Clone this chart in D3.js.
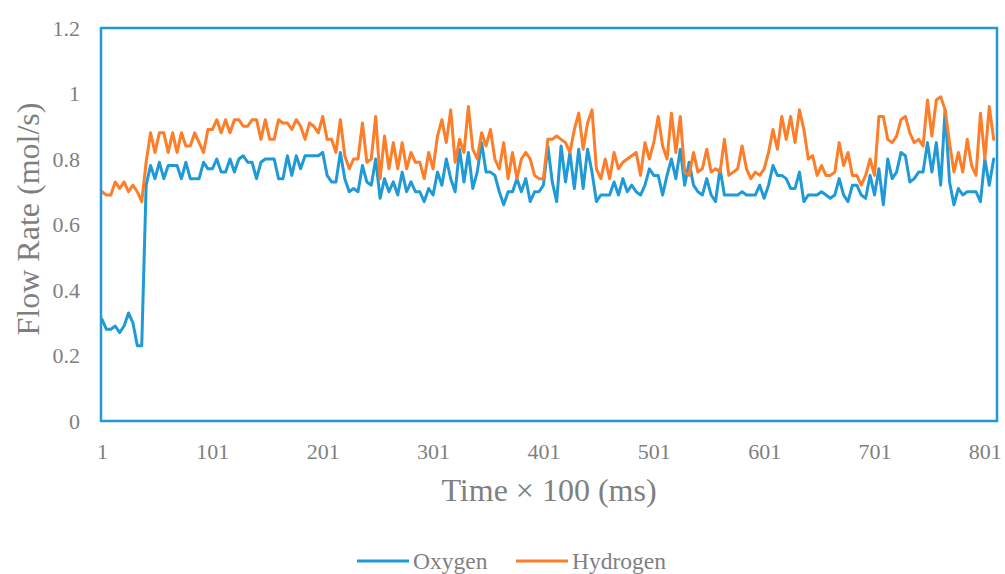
<!DOCTYPE html>
<html><head><meta charset="utf-8">
<script src="https://cdn.jsdelivr.net/npm/d3@7"></script>
<style>body{margin:0;background:#fff}svg{display:block}text{font-family:"Liberation Serif","Times New Roman",serif}</style>
</head><body>
<svg id="chart" width="1005" height="574"></svg>
<script>
// time index (every 4th sample of 812)
const timeStep = 4;
const oxygen = [
0.31,0.28,0.28,0.29,0.27,0.29,0.33,0.30,0.23,0.23,
0.72,0.78,0.74,0.79,0.74,0.78,0.78,0.78,0.74,0.79,
0.74,0.74,0.74,0.79,0.77,0.77,0.80,0.76,0.76,0.80,
0.76,0.80,0.81,0.79,0.79,0.74,0.79,0.80,0.80,0.80,
0.74,0.74,0.81,0.75,0.81,0.77,0.81,0.81,0.81,0.81,
0.82,0.75,0.73,0.73,0.82,0.74,0.70,0.71,0.70,0.78,
0.73,0.72,0.80,0.68,0.74,0.70,0.73,0.69,0.76,0.70,
0.73,0.70,0.70,0.67,0.71,0.69,0.76,0.72,0.80,0.74,
0.70,0.83,0.73,0.82,0.71,0.76,0.85,0.76,0.76,0.75,
0.70,0.66,0.70,0.70,0.74,0.70,0.74,0.67,0.70,0.70,
0.72,0.84,0.73,0.67,0.84,0.73,0.82,0.71,0.83,0.71,
0.83,0.76,0.67,0.69,0.69,0.69,0.73,0.69,0.74,0.70,
0.72,0.70,0.69,0.72,0.77,0.75,0.75,0.69,0.75,0.80,
0.74,0.83,0.72,0.79,0.72,0.70,0.69,0.74,0.69,0.67,
0.77,0.69,0.69,0.69,0.69,0.70,0.69,0.69,0.69,0.72,
0.68,0.72,0.78,0.75,0.75,0.74,0.71,0.71,0.76,0.67,
0.69,0.69,0.69,0.70,0.69,0.68,0.69,0.74,0.69,0.67,
0.72,0.72,0.69,0.68,0.75,0.69,0.77,0.66,0.80,0.74,
0.76,0.82,0.81,0.73,0.74,0.76,0.76,0.85,0.76,0.85,
0.72,0.95,0.73,0.66,0.71,0.69,0.70,0.70,0.70,0.67,
0.80,0.72,0.80
];
const hydrogen = [
0.70,0.69,0.69,0.73,0.71,0.73,0.70,0.72,0.70,0.67,
0.79,0.88,0.82,0.88,0.88,0.82,0.88,0.82,0.88,0.84,
0.84,0.88,0.85,0.82,0.89,0.89,0.92,0.88,0.92,0.88,
0.92,0.92,0.90,0.90,0.92,0.92,0.86,0.92,0.86,0.86,
0.92,0.91,0.91,0.89,0.92,0.90,0.86,0.91,0.90,0.88,
0.93,0.86,0.86,0.82,0.92,0.81,0.77,0.80,0.80,0.91,
0.79,0.80,0.93,0.74,0.87,0.77,0.85,0.77,0.85,0.77,
0.82,0.79,0.79,0.74,0.82,0.77,0.87,0.92,0.85,0.95,
0.79,0.86,0.82,0.96,0.83,0.80,0.88,0.84,0.89,0.80,
0.77,0.85,0.74,0.82,0.74,0.80,0.82,0.80,0.75,0.74,
0.74,0.86,0.86,0.87,0.86,0.85,0.82,0.89,0.94,0.83,
0.91,0.95,0.77,0.74,0.80,0.74,0.82,0.77,0.79,0.80,
0.81,0.82,0.75,0.85,0.80,0.85,0.93,0.84,0.80,0.94,
0.82,0.93,0.76,0.75,0.82,0.76,0.77,0.83,0.76,0.77,
0.76,0.86,0.75,0.76,0.77,0.84,0.77,0.74,0.76,0.75,
0.77,0.82,0.89,0.83,0.93,0.86,0.93,0.85,0.95,0.89,
0.80,0.81,0.75,0.78,0.75,0.75,0.76,0.85,0.78,0.82,
0.75,0.75,0.72,0.75,0.80,0.75,0.93,0.93,0.86,0.85,
0.87,0.92,0.93,0.88,0.85,0.86,0.84,0.98,0.87,0.98,
0.99,0.95,0.85,0.76,0.82,0.76,0.86,0.78,0.75,0.94,
0.80,0.96,0.86
];
const xTicks = [1,101,201,301,401,501,601,701,801];
const yTicks = [0,0.2,0.4,0.6,0.8,1,1.2];
const seriesNames = ["Oxygen","Hydrogen"];
const colors = ["#1f9ad7","#fd7d28"];

const svg = d3.select("#chart");
const L = 101, R = 997, T = 28, B = 421;
const x = d3.scaleLinear().domain([1, 812]).range([L+1, R]);
const y = d3.scaleLinear().domain([0, 1.2]).range([B, T]);
const txt = "#7f7f7f";

// y tick labels
const yAxis = d3.axisLeft(y).tickValues(yTicks).tickSize(0).tickPadding(0).tickFormat(d => d3.format("")(d));
const gy = svg.append("g").attr("transform", `translate(${L-21},0)`).call(yAxis);
gy.select(".domain").remove();
gy.attr("font-family", null);
gy.selectAll("text").attr("font-size", 22).attr("fill", txt).attr("dy","0.33em");

// x tick labels
const xAxis = d3.axisBottom(x).tickValues(xTicks).tickSize(0).tickPadding(0).tickFormat(d3.format("d"));
const gx = svg.append("g").attr("transform", `translate(0,${B+31})`).call(xAxis);
gx.select(".domain").remove();
gx.attr("font-family", null);
gx.selectAll("text").attr("font-size", 22).attr("fill", txt).attr("dy","0.33em");

const line = d3.line().x((d,i) => x(1 + i*timeStep)).y(d => y(d));
[oxygen, hydrogen].forEach((s, k) => {
  svg.append("path").datum(s).attr("d", line).attr("fill","none")
    .attr("stroke", colors[k]).attr("stroke-width", 3).attr("stroke-linejoin","round").attr("stroke-linecap","round");
});

// plot border
svg.append("rect").attr("x", L).attr("y", T).attr("width", R-L).attr("height", B-T)
  .attr("fill","none").attr("stroke", colors[0]).attr("stroke-width", 2.5);

// axis titles
svg.append("text").attr("x", 549).attr("y", 501).attr("text-anchor","middle")
  .attr("font-size", 32).attr("fill", txt).text("Time × 100 (ms)");
svg.append("text").attr("transform","translate(39,219) rotate(-90)").attr("text-anchor","middle")
  .attr("font-size", 32).attr("fill", txt).text("Flow Rate (mol/s)");

// legend
const leg = [{x:357},{x:516}];
seriesNames.forEach((n,k) => {
  svg.append("line").attr("x1", leg[k].x).attr("x2", leg[k].x+52).attr("y1",561).attr("y2",561)
    .attr("stroke", colors[k]).attr("stroke-width", 3);
  svg.append("text").attr("x", leg[k].x+56).attr("y", 561).attr("dy","0.33em")
    .attr("font-size", 23.5).attr("fill", txt).text(n);
});
</script>
</body></html>
